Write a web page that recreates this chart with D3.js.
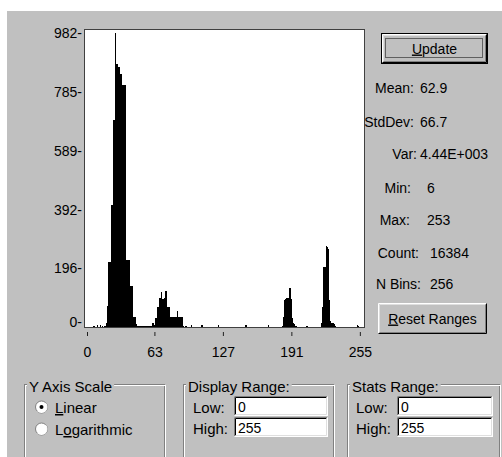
<!DOCTYPE html>
<html>
<head>
<meta charset="utf-8">
<title>Histogram</title>
<script src="https://cdn.jsdelivr.net/npm/d3@7/dist/d3.min.js"></script>
<style>
	body { margin: 0; background: #fff; }
	svg { display: block; }
	text { font-family: 'Liberation Sans', Arial, sans-serif; font-size: 14px; fill: #000; }
</style>
</head>
<body>
<script>
'use strict'

// one count per bin, bins 0..255
const counts = [
	0, 0, 0, 0, 0, 0, 3, 0, 0, 6, 0, 0, 6, 0, 4, 0,
	3, 5, 12, 70, 217, 217, 407, 407, 691, 691, 982, 877, 877, 870, 844, 844,
	770, 809, 809, 809, 224, 224, 224, 224, 137, 137, 137, 33, 33, 10, 5, 4,
	5, 3, 4, 5, 3, 4, 3, 5, 2, 3, 2, 3, 4, 13, 3, 6,
	30, 67, 67, 97, 97, 117, 94, 94, 97, 120, 67, 67, 67, 33, 33, 33,
	33, 33, 33, 33, 53, 33, 33, 33, 33, 3, 0, 0, 2, 0, 0, 0,
	0, 7, 0, 0, 0, 0, 0, 0, 0, 0, 0, 7, 0, 0, 0, 0,
	0, 0, 0, 0, 0, 0, 0, 0, 0, 0, 7, 0, 0, 0, 0, 0,
	0, 0, 0, 0, 0, 0, 0, 0, 0, 0, 0, 0, 0, 0, 0, 0,
	0, 0, 0, 0, 7, 0, 0, 0, 0, 0, 0, 0, 0, 0, 0, 0,
	0, 0, 0, 0, 0, 0, 0, 0, 0, 7, 0, 0, 0, 0, 0, 0,
	0, 0, 0, 0, 0, 0, 3, 33, 90, 93, 97, 97, 97, 130, 93, 30,
	12, 10, 5, 3, 0, 0, 0, 0, 0, 0, 0, 0, 0, 5, 0, 0,
	0, 0, 0, 0, 0, 0, 0, 0, 0, 0, 0, 15, 67, 200, 200, 270,
	268, 262, 90, 20, 13, 13, 10, 5, 0, 0, 0, 0, 0, 0, 0, 0,
	0, 0, 0, 0, 0, 0, 0, 0, 0, 0, 0, 0, 7, 3, 0, 0
];

const yTicks = [0, 196, 392, 589, 785, 982];
const xTicks = [0, 63, 127, 191, 255];

const statLabels = ['Mean:', 'StdDev:', 'Var:', 'Min:', 'Max:', 'Count:', 'N Bins:'];
const statValues = ['62.9', '66.7', '4.44E+003', '6', '253', '16384', '256'];

const scaleOptions = ['Linear', 'Logarithmic'];
const rangeGroups = ['Display Range:', 'Stats Range:'];
const rangeLow = ['0', '0'];
const rangeHigh = ['255', '255'];


;(() => {
	const face = '#c0c0c0';
	const layout = {
		plot: { left: 84, top: 29, right: 365, bottom: 328 },
		binLeft: 87,
		binWidth: 1.07,
		barBase: 327,
		barTop: 33,
		statRows: [
			{ lx: 414, vx: 420, y: 93 },
			{ lx: 414, vx: 420, y: 127 },
			{ lx: 417, vx: 420, y: 159 },
			{ lx: 411, vx: 427, y: 193 },
			{ lx: 410, vx: 427, y: 225 },
			{ lx: 419, vx: 430, y: 258 },
			{ lx: 421, vx: 430, y: 289 }
		],
		rangeBoxes: [
			{ left: 183, right: 334, labelX: 193, inputX: 234, inputW: 94 },
			{ left: 347, right: 500, labelX: 356, inputX: 397, inputW: 96 }
		]
	};

	const svg = d3.select('body').append('svg')
		.attr('width', 502)
		.attr('height', 457);

	// dialog face
	svg.append('rect')
		.attr('x', 7).attr('y', 11)
		.attr('width', 495).attr('height', 446)
		.attr('fill', face);

	const p = layout.plot;
	svg.append('rect')
		.attr('x', p.left + 0.5).attr('y', p.top + 0.5)
		.attr('width', p.right - p.left - 1).attr('height', p.bottom - p.top - 1)
		.attr('fill', '#fff')
		.attr('stroke', '#404040');

	const x = d3.scaleLinear()
		.domain([0, counts.length])
		.range([layout.binLeft, layout.binLeft + counts.length * layout.binWidth]);
	const y = d3.scaleLinear()
		.domain([0, d3.max(counts)])
		.range([layout.barBase, layout.barTop]);

	svg.append('g')
		.attr('shape-rendering', 'crispEdges')
		.selectAll('rect')
		.data(counts)
		.join('rect')
		.attr('x', (d, i) => x(i))
		.attr('width', (d, i) => x(i + 1) - x(i) + 0.4)
		.attr('y', d => y(d))
		.attr('height', d => y(0) - y(d))
		.attr('fill', '#000');

	// y axis: labels only, with the trailing dash
	const yAxis = svg.append('g')
		.attr('transform', 'translate(82,0)')
		.call(d3.axisLeft(y).tickValues(yTicks).tickSize(0).tickPadding(0).tickFormat(d => d + '-'));
	yAxis.select('.domain').remove();
	yAxis.selectAll('text')
		.style('font-size', '14px')
		.attr('fill', '#000')
		.attr('dy', d => d === 0 ? '-0.05em' : '0.32em');

	const xAxis = svg.append('g')
		.attr('transform', 'translate(0,332)')
		.call(d3.axisBottom(x).tickValues(xTicks).tickSize(4).tickPadding(11).tickFormat(d3.format('d')));
	xAxis.select('.domain').remove();
	xAxis.selectAll('line').attr('stroke', '#202020');
	xAxis.selectAll('text').style('font-size', '14px').attr('fill', '#000');

	// helpers for the classic 3d look
	function bevel(g, bx, by, w, h, tl, br) {
		g.append('path')
			.attr('d', `M${bx + 0.5},${by + h - 0.5}V${by + 0.5}H${bx + w - 0.5}`)
			.attr('fill', 'none').attr('stroke', tl);
		g.append('path')
			.attr('d', `M${bx + 0.5},${by + h - 0.5}H${bx + w - 0.5}V${by + 0.5}`)
			.attr('fill', 'none').attr('stroke', br);
	}

	function label(g, tx, ty, str, ul, anchor) {
		const t = g.append('text')
			.attr('x', tx).attr('y', ty)
			.attr('text-anchor', anchor || 'start');
		if (ul < 0) {
			t.text(str);
			return t;
		}
		t.append('tspan').text(str.slice(0, ul));
		t.append('tspan').style('text-decoration', 'underline').text(str[ul]);
		t.append('tspan').text(str.slice(ul + 1));
		return t;
	}

	function button(bx, by, w, h, str, ul, isDefault) {
		const g = svg.append('g');
		g.append('rect').attr('x', bx).attr('y', by).attr('width', w).attr('height', h).attr('fill', face);
		if (isDefault) {
			g.append('rect')
				.attr('x', bx + 0.5).attr('y', by + 0.5)
				.attr('width', w - 1).attr('height', h - 1)
				.attr('fill', 'none').attr('stroke', '#000');
			bx += 1; by += 1; w -= 2; h -= 2;
		}
		bevel(g, bx, by, w, h, '#fff', '#000');
		bevel(g, bx + 1, by + 1, w - 2, h - 2, '#dfdfdf', '#808080');
		if (isDefault) {
			g.append('rect')
				.attr('x', bx + 3.5).attr('y', by + 4.5)
				.attr('width', w - 8).attr('height', h - 10)
				.attr('fill', 'none').attr('stroke', '#000')
				.attr('stroke-dasharray', '1,1');
		}
		label(g, bx + w / 2, by + h / 2 + 5, str, ul, 'middle');
	}

	button(381, 33, 107, 31, 'Update', 0, true);
	button(378, 303, 109, 31, 'Reset Ranges', 0, false);

	const stats = svg.append('g');
	layout.statRows.forEach((r, i) => {
		stats.append('text').attr('x', r.lx).attr('y', r.y).attr('text-anchor', 'end').text(statLabels[i]);
		stats.append('text').attr('x', r.vx).attr('y', r.y).text(statValues[i]);
	});

	function groupBox(left, right, title) {
		const g = svg.append('g');
		const top = 384;
		g.append('rect')
			.attr('x', left + 0.5).attr('y', top + 0.5)
			.attr('width', right - left - 1).attr('height', 100)
			.attr('fill', 'none').attr('stroke', '#808080');
		g.append('rect')
			.attr('x', left + 1.5).attr('y', top + 1.5)
			.attr('width', right - left - 1).attr('height', 100)
			.attr('fill', 'none').attr('stroke', '#fff');
		const gap = g.append('rect').attr('fill', face);
		const t = g.append('text').attr('x', left + 5).attr('y', 392).style('font-size', '15px').text(title);
		const len = t.node().getComputedTextLength();
		gap.attr('x', left + 3).attr('y', top - 2).attr('width', len + 4).attr('height', 6);
		return g;
	}

	const axisBox = groupBox(24, 165, 'Y Axis Scale');
	const underline = [0, 1];
	scaleOptions.forEach((name, i) => {
		const cy = 407 + i * 22;
		axisBox.append('circle').attr('cx', 41.5).attr('cy', cy).attr('r', 6)
			.attr('fill', '#fff').attr('stroke', '#808080');
		axisBox.append('path')
			.attr('d', d3.arc()({ innerRadius: 5, outerRadius: 6, startAngle: Math.PI / 4, endAngle: Math.PI * 5 / 4 }))
			.attr('transform', `translate(41.5,${cy})`)
			.attr('fill', '#fff');
		if (i === 0) {
			axisBox.append('circle').attr('cx', 41.5).attr('cy', cy).attr('r', 2).attr('fill', '#000');
		}
		label(axisBox, 55, 413 + i * 22, name, underline[i]).style('font-size', '15px');
	});

	layout.rangeBoxes.forEach((b, i) => {
		const g = groupBox(b.left, b.right, rangeGroups[i]);
		[['Low:', rangeLow[i], 396], ['High:', rangeHigh[i], 417]].forEach(row => {
			g.append('text').attr('x', b.labelX).attr('y', row[2] + 17).style('font-size', '15px').text(row[0]);
			g.append('rect').attr('x', b.inputX).attr('y', row[2]).attr('width', b.inputW).attr('height', 20).attr('fill', '#fff');
			bevel(g, b.inputX, row[2], b.inputW, 20, '#808080', '#fff');
			bevel(g, b.inputX + 1, row[2] + 1, b.inputW - 2, 18, '#000', '#dfdfdf');
			g.append('text').attr('x', b.inputX + 4).attr('y', row[2] + 16).text(row[1]);
		});
	});
})();
</script>
</body>
</html>
